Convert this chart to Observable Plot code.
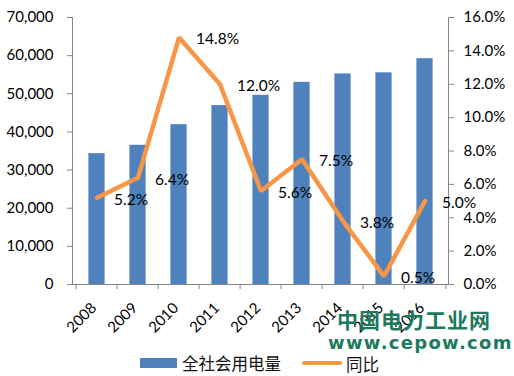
<!DOCTYPE html>
<html><head><meta charset="utf-8">
<script src="https://cdn.jsdelivr.net/npm/d3@7"></script>
<script src="https://cdn.jsdelivr.net/npm/@observablehq/plot@0.6"></script>
<style>
body{margin:0;background:#fff;}
#wrap{position:relative;width:514px;height:376px;overflow:hidden;background:#fff;}
#wrap svg{position:absolute;left:0;top:0;}
.lg{position:absolute;font-family:"Noto Sans CJK SC",sans-serif;font-size:16.5px;line-height:17px;color:#111;white-space:nowrap;}
.wm1{position:absolute;font-family:"Noto Sans CJK SC",sans-serif;font-weight:bold;font-size:21px;line-height:22px;letter-spacing:1px;color:#1B7A5C;white-space:nowrap;}
.wm2{position:absolute;font-family:"DejaVu Sans",sans-serif;font-weight:bold;font-size:18px;line-height:16px;letter-spacing:1.3px;color:#1B7A5C;white-space:nowrap;}
</style></head><body><div id="wrap"></div>
<script>
const years = ["2008","2009","2010","2011","2012","2013","2014","2015","2016"];
const consumption = [34300, 36500, 41900, 46900, 49600, 53000, 55200, 55500, 59200];
const growth = [5.2, 6.4, 14.8, 12.0, 5.6, 7.5, 3.8, 0.5, 5.0];
const leftTicks = [0, 10000, 20000, 30000, 40000, 50000, 60000, 70000];
const rightTicks = [0, 2, 4, 6, 8, 10, 12, 14, 16];
const seriesNames = ["全社会用电量", "同比"];
const watermark = ["中国电力工业网", "www.cepow.com"];

const yMax = 70000, pctMax = 16;
const toY = p => p / pctMax * yMax;
const data = years.map((year, i) => ({year, value: consumption[i], pct: growth[i]}));

const W = 514, H = 350, ML = 72, MR = 66, MT = 17, MB = 66;
const step = (W - ML - MR) / years.length;
const barW = 17;
const inset = (step - barW) / 2;
const pxPerUnit = (H - MT - MB) / yMax;
const axisColor = "#868686";

const chart = Plot.plot({
  width: W, height: H,
  marginLeft: ML, marginRight: MR, marginTop: MT, marginBottom: MB,
  style: {fontFamily: "Lato, sans-serif", fontSize: "15px", color: "#000", background: "transparent"},
  x: {type: "band", domain: years, padding: 0, label: null, axis: null},
  y: {domain: [0, yMax], nice: false, label: null, axis: null},
  marks: [
    Plot.barY(data, {x: "year", y: "value", fill: "#4F81BD", insetLeft: inset, insetRight: inset}),
    Plot.frame({anchor: "left", stroke: axisColor}),
    Plot.frame({anchor: "right", stroke: axisColor}),
    Plot.frame({anchor: "bottom", stroke: axisColor}),
    Plot.axisY(leftTicks, {anchor: "left", tickSize: 5, tickPadding: 14, stroke: axisColor, fill: "#000",
      tickFormat: d3.format(","), fontSize: 15, label: null}),
    Plot.axisY(rightTicks.map(toY), {anchor: "right", tickSize: 5, tickPadding: 10, stroke: axisColor, fill: "#000",
      tickFormat: d => (d / yMax * pctMax).toFixed(1) + "%", fontSize: 15, label: null}),
    Plot.axisX({anchor: "bottom", tickSize: 5, stroke: axisColor, tickFormat: () => "", dx: -step / 2, label: null}),
    Plot.ruleX([years[years.length - 1]], {dx: step / 2, y1: 0, y2: -5 / pxPerUnit, stroke: axisColor}),
    Plot.axisX({anchor: "bottom", tickSize: 0, tickPadding: 21, dx: -3, tickRotate: -45, fill: "#000", fontSize: 15, label: null}),
    Plot.line(data, {x: "year", y: d => toY(d.pct), stroke: "#F79646", strokeWidth: 4.5, strokeLinejoin: "miter"}),
    Plot.text(data, {x: "year", y: d => toY(d.pct), text: d => d.pct.toFixed(1) + "%", textAnchor: "start",
      dx: 17, dy: 2, fontSize: 15.5, fill: "#000"})
  ]
});

const wrap = document.getElementById("wrap");
wrap.appendChild(chart);

function addDiv(cls, text, styles) {
  const d = document.createElement("div");
  d.className = cls;
  if (text != null) d.textContent = text;
  Object.assign(d.style, styles);
  wrap.appendChild(d);
  return d;
}
// legend
addDiv("lg", null, {left: "140px", top: "358px", width: "37px", height: "10px", background: "#4F81BD"});
addDiv("lg", seriesNames[0], {left: "182px", top: "355px"});
addDiv("lg", null, {left: "302px", top: "361px", width: "40px", height: "4px", background: "#F79646", borderRadius: "2px"});
addDiv("lg", seriesNames[1], {left: "346px", top: "356px"});
// watermark
addDiv("wm1", watermark[0], {left: "337px", top: "308px"});
addDiv("wm2", watermark[1], {left: "328px", top: "335px"});
</script></body></html>
